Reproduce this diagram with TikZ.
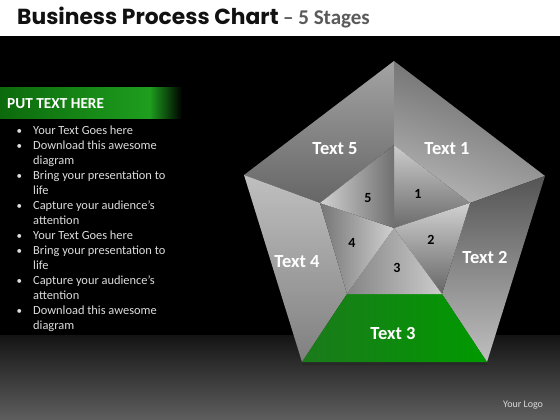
\documentclass[tikz,border=0pt]{standalone}
\usepackage{fontspec}
\usetikzlibrary{calc}
\setmainfont{Carlito}
\newfontfamily\titlefont{Poppins}
\definecolor{titleblack}{HTML}{111111}
\definecolor{titlegray}{HTML}{5A5A5A}
\definecolor{bulgray}{HTML}{DDDDDD}
\definecolor{bgA}{HTML}{141414}
\definecolor{bgB}{HTML}{5E5E5E}
\definecolor{grDark}{HTML}{0C6A0C}
\definecolor{grBright}{HTML}{1E9E1E}
\definecolor{gMid}{HTML}{005500}
\definecolor{gLeft}{HTML}{1B7A1B}
\definecolor{gRight}{HTML}{009A00}
\begin{document}
\begin{tikzpicture}[x=1pt,y=-1pt,
  lbl/.style={text=white,font=\bfseries\fontsize{18.5}{18.5}\selectfont,inner sep=0pt},
  num/.style={text=black,font=\bfseries\fontsize{14}{14}\selectfont,inner sep=0pt},
  bul/.style={anchor=base west,text=bulgray,font=\fontsize{12.4}{12.4}\selectfont,inner sep=0pt},
  dot/.style={anchor=base west,text=bulgray,font=\fontsize{11}{11}\selectfont,inner sep=0pt}]
\useasboundingbox (0,0) rectangle (560,420);
% background
\fill[white] (0,0) rectangle (560,37);
\fill[black] (0,36.5) rectangle (560,336);
\shade[top color=bgA, bottom color=bgB] (0,335) rectangle (560,420);
% title
\node[anchor=base west,inner sep=0pt,font=\titlefont\bfseries\fontsize{21.8}{21.8}\selectfont,text=titleblack] (title) at (17,25) {Business Process Chart};
\node[anchor=base west,inner sep=0pt,font=\bfseries\fontsize{21}{21}\selectfont,text=titlegray] (sub) at (283,25) {– 5 Stages};
% green bar
\shade[left color=grDark, right color=grBright] (0,88) rectangle (150,118);
\shade[left color=grBright, right color=black] (149.5,88) rectangle (182,118);
\node[anchor=base west,inner sep=0pt,text=white,font=\bfseries\fontsize{15.3}{15.3}\selectfont] (head) at (7,108) {PUT TEXT HERE};
% bullets
\foreach \t [count=\i from 0] in {Your Text Goes here,Download this awesome,diagram,Bring your presentation to,life,Capture your audience’s,attention,Your Text Goes here,Bring your presentation to,life,Capture your audience’s,attention,Download this awesome,diagram}{
  \node[bul] (b\i) at (33,134.3+15*\i) {\t};
}
\foreach \i in {0,1,3,5,7,8,10,12}{
  \node[dot] (d\i) at (16.5,134.3+15*\i) {•};
}
% pentagon coordinates
\coordinate (O1) at (394,61);
\coordinate (O2) at (545,176);
\coordinate (O3) at (487,362);
\coordinate (O4) at (302,362);
\coordinate (O5) at (244,175);
\coordinate (I1) at (394,145);
\coordinate (I2) at (470,203);
\coordinate (I3) at (442,294);
\coordinate (I4) at (347,294);
\coordinate (I5) at (320,203);
\coordinate (C) at (394,228);
% shadow under pentagon
\fill[black!85,opacity=0.6] ($(O4)+(2,0)$) -- ($(O3)+(-2,0)$) -- ($(O3)+(0,3)$) -- ($(O4)+(0,3)$) -- cycle;
% outer faces
\shade[top color=black!36, bottom color=black!60] (O5)--(O1)--(I1)--(I5)--cycle;
\shade[left color=black!60, right color=black!30, shading angle=-20] (O1)--(O2)--(I2)--(I1)--cycle;
\shade[top color=black!67, bottom color=black!25] (O2)--(O3)--(I3)--(I2)--cycle;
\shade[top color=black!25, bottom color=black!50] (O4)--(O5)--(I5)--(I4)--cycle;
\shade[left color=gLeft, middle color=gMid, right color=gRight] (I4)--(I3)--(O3)--(O4)--cycle;
% inner triangles
\shade[top color=black!20, bottom color=black!58] (C)--(I1)--(I2)--cycle;
\shade[top color=black!18, bottom color=black!60] (C)--(I2)--(I3)--cycle;
\shade[left color=black!48, right color=black!20] (C)--(I3)--(I4)--cycle;
\shade[left color=black!54, right color=black!18] (C)--(I4)--(I5)--cycle;
\shade[left color=black!18, right color=black!56] (C)--(I5)--(I1)--cycle;
% labels
\node[lbl] (t5) at (335,149) {Text 5};
\node[lbl] (t1) at (447,149) {Text 1};
\node[lbl] (t2) at (485,258) {Text 2};
\node[lbl] (t4) at (297,262) {Text 4};
\node[lbl] (t3) at (393,333) {Text 3};
\node[num] (n1) at (418,194) {1};
\node[num] (n2) at (431,240) {2};
\node[num] (n3) at (397,268) {3};
\node[num] (n4) at (352,243) {4};
\node[num] (n5) at (368,198) {5};
% logo
\node[anchor=west,inner sep=0pt,text=black!15,font=\fontsize{10}{10}\selectfont] (logo) at (503,405) {Your Logo};
\end{tikzpicture}
\end{document}
